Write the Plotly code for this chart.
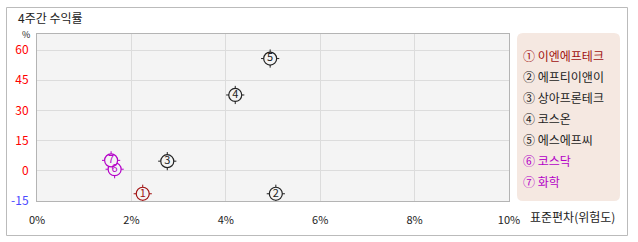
import plotly.graph_objects as go

# ---- data ----
names = ["이엔에프테크", "에프티이앤이", "상아프론테크", "코스온", "에스에프씨", "코스닥", "화학"]
labels = ["1", "2", "3", "4", "5", "6", "7"]
circled = ["①", "②", "③", "④", "⑤", "⑥", "⑦"]
std_dev = [2.24, 5.06, 2.76, 4.20, 4.94, 1.645, 1.57]
returns = [-11.4, -11.4, 4.8, 37.7, 55.8, 0.8, 5.2]
colors = ["#a01010", "#222222", "#222222", "#222222", "#222222", "#b400c8", "#b400c8"]
x_ticks = [0, 2, 4, 6, 8, 10]
x_ticktext = ["0%", "2%", "4%", "6%", "8%", "10%"]
y_ticks = [-15, 0, 15, 30, 45, 60]

W, H = 638, 242
L, R, T, B = 37, 509, 34, 201
FONT = "Noto Sans CJK KR"

def px(x):
    return (x - L) / (R - L)

def py(y):
    return (B - y) / (B - T)

fig = go.Figure()
# tick marks around markers
fig.add_trace(go.Scatter(x=std_dev, y=returns, mode="markers",
                         marker=dict(symbol="cross-thin-open", size=13,
                                     color=colors, line=dict(color=colors, width=1)),
                         hoverinfo="skip", showlegend=False))
# circle body
fig.add_trace(go.Scatter(x=std_dev, y=returns, mode="markers+text",
                         text=labels, textposition="middle center",
                         textfont=dict(family=FONT, size=11, color=colors),
                         marker=dict(symbol="circle", size=13, color="#f4f4f4",
                                     line=dict(color=colors, width=1.2)),
                         hoverinfo="skip", showlegend=False))

y_ticktext = [
    f"<span style='color:{'#4a4aff' if v < 0 else '#ff0000'}'>{v}</span>" for v in y_ticks
]

fig.update_layout(
    width=W, height=H,
    margin=dict(l=L, r=W - R, t=T, b=H - B),
    paper_bgcolor="white", plot_bgcolor="#f4f4f4",
    font=dict(family=FONT, size=12, color="#222222"),
    showlegend=False,
    xaxis=dict(range=[0, 10], tickvals=x_ticks, ticktext=x_ticktext,
               showgrid=True, gridcolor="#dcdcdc", gridwidth=1,
               zeroline=False, showline=True, mirror=True, linecolor="#b4b4b4",
               ticks="outside", ticklen=9, tickcolor="rgba(0,0,0,0)",
               tickfont=dict(family=FONT, size=11, color="#222222"),
               fixedrange=True),
    yaxis=dict(range=[-15, 68], tickvals=y_ticks, ticktext=y_ticktext,
               showgrid=True, gridcolor="#dcdcdc", gridwidth=1,
               zeroline=False, showline=True, mirror=True, linecolor="#b4b4b4",
               ticks="outside", ticklen=5, tickcolor="rgba(0,0,0,0)",
               tickfont=dict(family=FONT, size=12),
               fixedrange=True),
)

shapes = []
# outer frame
shapes.append(dict(type="rect", xref="paper", yref="paper",
                   x0=px(6.5), x1=px(627.5), y0=py(7.5), y1=py(235.5),
                   line=dict(color="#bbbbbb", width=1), fillcolor="rgba(0,0,0,0)",
                   layer="below"))
# legend box (rounded)
lx0, lx1, ly0, ly1, r = 517, 620, 33, 201, 6
rx, ry = r / (R - L), r / (B - T)
X0, X1, Y0, Y1 = px(lx0), px(lx1), py(ly1), py(ly0)
path = (f"M {X0+rx},{Y0} L {X1-rx},{Y0} Q {X1},{Y0} {X1},{Y0+ry} "
        f"L {X1},{Y1-ry} Q {X1},{Y1} {X1-rx},{Y1} L {X0+rx},{Y1} "
        f"Q {X0},{Y1} {X0},{Y1-ry} L {X0},{Y0+ry} Q {X0},{Y0} {X0+rx},{Y0} Z")
shapes.append(dict(type="path", xref="paper", yref="paper", path=path,
                   fillcolor="#f5e8e1", line=dict(width=0), layer="below"))
fig.update_layout(shapes=shapes)

ann = []
ann.append(dict(text="4주간 수익률", xref="paper", yref="paper", x=px(16), y=py(18),
                xanchor="left", yanchor="middle", showarrow=False,
                font=dict(family=FONT, size=12, color="#222222")))
ann.append(dict(text="%", xref="paper", yref="paper", x=px(26), y=py(34.5),
                xanchor="center", yanchor="middle", showarrow=False,
                font=dict(family=FONT, size=9, color="#222222")))
ann.append(dict(text="표준편차(위험도)", xref="paper", yref="paper", x=px(528), y=py(216),
                xanchor="left", yanchor="middle", showarrow=False,
                font=dict(family=FONT, size=12, color="#222222")))
for i, (c, n, col) in enumerate(zip(circled, names, colors)):
    ann.append(dict(text=f"{c} {n}", xref="paper", yref="paper",
                    x=px(521), y=py(55 + i * 21.1),
                    xanchor="left", yanchor="middle", showarrow=False,
                    font=dict(family=FONT, size=12, color=col)))
fig.update_layout(annotations=ann)

fig.write_html("out.html", config={"displayModeBar": False})
